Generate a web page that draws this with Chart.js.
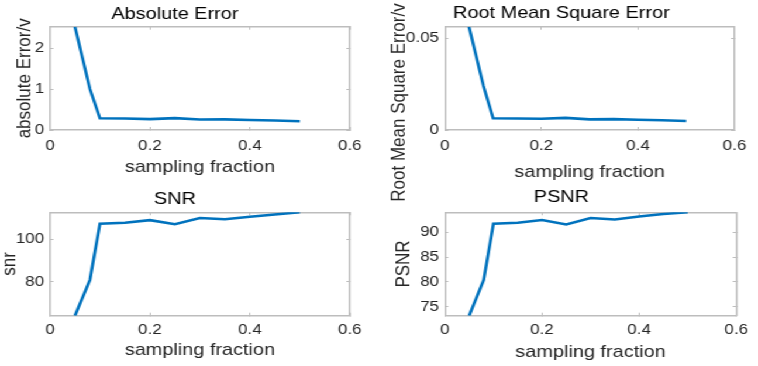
<!DOCTYPE html>
<html>
<head>
<meta charset="utf-8">
<script src="https://cdn.jsdelivr.net/npm/chart.js@4.4.1/dist/chart.umd.min.js"></script>
<style>
html,body{margin:0;padding:0;background:#fff;overflow:hidden;width:758px;height:366px}
#wrap{position:absolute;left:0;top:0;width:648px;height:366px;transform:scaleX(1.16975);transform-origin:0 0}
canvas{position:absolute}
</style>
</head>
<body>
<div id="wrap">
<canvas id="c1" width="324" height="183" style="left:0;top:0"></canvas>
<canvas id="c2" width="324" height="215" style="left:324px;top:0"></canvas>
<canvas id="c3" width="324" height="183" style="left:0;top:183px"></canvas>
<canvas id="c4" width="324" height="183" style="left:324px;top:183px"></canvas>
</div>
<script>
// ---- data ----
const samplingFraction = [0.05, 0.08, 0.10, 0.15, 0.20, 0.25, 0.30, 0.35, 0.40, 0.45, 0.50];
const absoluteError    = [2.52, 1.00, 0.285, 0.28, 0.265, 0.29, 0.255, 0.26, 0.245, 0.23, 0.215];
const rmsError         = [0.0563, 0.024, 0.0064, 0.0063, 0.0061, 0.0066, 0.0058, 0.0059, 0.0056, 0.0053, 0.0049];
const snrValues        = [63.9, 80.8, 107.2, 107.7, 108.9, 107.0, 109.9, 109.3, 110.5, 111.6, 112.6];
const psnrValues       = [73.2, 80.4, 91.75, 91.95, 92.5, 91.6, 92.9, 92.6, 93.2, 93.7, 94.05];

const xTickValues    = [0, 0.2, 0.4, 0.6];
const absErrTicks    = [0, 1, 2];
const rmseTicks      = [0, 0.05];
const snrTicks       = [80, 100];
const psnrTicks      = [75, 80, 85, 90];
const xRange         = [0, 0.6];

// ---- style ----
const FONT = "'Liberation Sans', Arial, Helvetica, sans-serif";
const AXIS = '#bdbdbd';
const TXT = '#262626';
const LINE = '#0072BD';
const fmt = v => String(Math.round(v * 1e6) / 1e6);

const shiftedYLabel = {
  id: 'shiftedYLabel',
  afterDraw(chart, args, opts) {
    if (!opts || !opts.text) return;
    const ctx = chart.ctx;
    ctx.save();
    ctx.translate(opts.x, opts.y);
    ctx.rotate(-Math.PI / 2);
    ctx.font = '17px ' + FONT;
    ctx.fillStyle = TXT;
    ctx.textAlign = 'center';
    ctx.textBaseline = 'alphabetic';
    ctx.fillText(opts.text, 0, 0);
    ctx.restore();
  }
};

function setTicks(list) {
  return s => { s.ticks = list.map(v => ({ value: v })); };
}

function makeChart(id, c) {
  const grid = { display: true, drawOnChartArea: false, drawTicks: true, tickLength: -3, tickColor: AXIS, tickWidth: 1 };
  const border = { display: true, color: AXIS, width: 1.5 };
  return new Chart(document.getElementById(id), {
    type: 'line',
    data: {
      datasets: [{
        data: samplingFraction.map((x, i) => ({ x: x, y: c.values[i] })),
        borderColor: LINE,
        borderWidth: 2.6,
        pointRadius: 0,
        tension: 0,
        fill: false,
        clip: 0
      }]
    },
    options: {
      responsive: false,
      animation: false,
      events: [],
      layout: { padding: { left: 0, top: 0, right: c.padRight, bottom: 0 } },
      plugins: {
        legend: { display: false },
        tooltip: { enabled: false },
        title: {
          display: true, text: c.title, color: '#000',
          font: { family: FONT, size: 17, weight: 'normal', lineHeight: 1.2 },
          padding: { top: c.titleTop, bottom: c.titleBottom }
        },
        shiftedYLabel: c.shifted || {}
      },
      scales: {
        x: {
          type: 'linear', position: 'bottom', bounds: 'data',
          min: xRange[0], max: xRange[1],
          grid: grid, border: border,
          afterBuildTicks: setTicks(xTickValues),
          afterFit: s => { s.height = c.xHeight; },
          ticks: { color: TXT, font: { family: FONT, size: 14.5 }, padding: c.xTickPad, maxRotation: 0, autoSkip: false, callback: fmt },
          title: { display: true, text: 'sampling fraction', color: TXT, font: { family: FONT, size: 17, lineHeight: 1 }, padding: { top: 0, bottom: c.xTitleBottom } }
        },
        x2: {
          type: 'linear', position: 'top', bounds: 'data',
          min: xRange[0], max: xRange[1],
          grid: grid, border: border,
          afterBuildTicks: setTicks(xTickValues),
          afterFit: s => { s.height = 0; },
          ticks: { display: false }
        },
        y: {
          type: 'linear', position: 'left', bounds: 'data',
          min: c.yMin, max: c.yMax,
          grid: grid, border: border,
          afterBuildTicks: setTicks(c.yTicks),
          afterFit: s => { s.width = c.yWidth; },
          ticks: { color: TXT, font: { family: FONT, size: 14.5 }, padding: 8, autoSkip: false, callback: fmt },
          title: { display: !!c.yLabel, text: c.yLabel || '', color: TXT, font: { family: FONT, size: 17, lineHeight: 1 }, padding: { top: c.yTitleLeft || 0, bottom: 0 } }
        },
        y2: {
          type: 'linear', position: 'right', bounds: 'data',
          min: c.yMin, max: c.yMax,
          grid: grid, border: border,
          afterBuildTicks: setTicks(c.yTicks),
          afterFit: s => { s.width = 0; },
          ticks: { display: false }
        }
      }
    },
    plugins: c.shifted ? [shiftedYLabel] : []
  });
}

makeChart('c1', {
  values: absoluteError, yMin: 0, yMax: Math.max(...absoluteError), yTicks: absErrTicks,
  title: 'Absolute Error', titleTop: 3.9, titleBottom: 2.4,
  padRight: 24.9, yWidth: 42.7, xHeight: 53, xTickPad: 10, xTitleBottom: 7.2,
  yLabel: 'absolute Error/v', yTitleLeft: 13.2
});
makeChart('c2', {
  values: rmsError, yMin: 0, yMax: Math.max(...rmsError), yTicks: rmseTicks,
  title: 'Root Mean Square Error', titleTop: 3.2, titleBottom: 3.1,
  padRight: 12.1, yWidth: 56.3, xHeight: 85, xTickPad: 10, xTitleBottom: 34.4,
  shifted: { text: 'Root Mean Square Error/v', x: 22.2, y: 102.5 }
});
makeChart('c3', {
  values: snrValues, yMin: Math.min(...snrValues), yMax: Math.max(...snrValues), yTicks: snrTicks,
  title: 'SNR', titleTop: 6.6, titleBottom: 2.3,
  padRight: 24.9, yWidth: 42.7, xHeight: 50.3, xTickPad: 8.5, xTitleBottom: 7.2,
  yLabel: 'snr', yTitleLeft: 0
});
makeChart('c4', {
  values: psnrValues, yMin: Math.min(...psnrValues), yMax: Math.max(...psnrValues), yTicks: psnrTicks,
  title: 'PSNR', titleTop: 4.6, titleBottom: 4.3,
  padRight: 12.1, yWidth: 56.3, xHeight: 50.3, xTickPad: 8.5, xTitleBottom: 4.9,
  yLabel: 'PSNR', yTitleLeft: 13
});
</script>
</body>
</html>
